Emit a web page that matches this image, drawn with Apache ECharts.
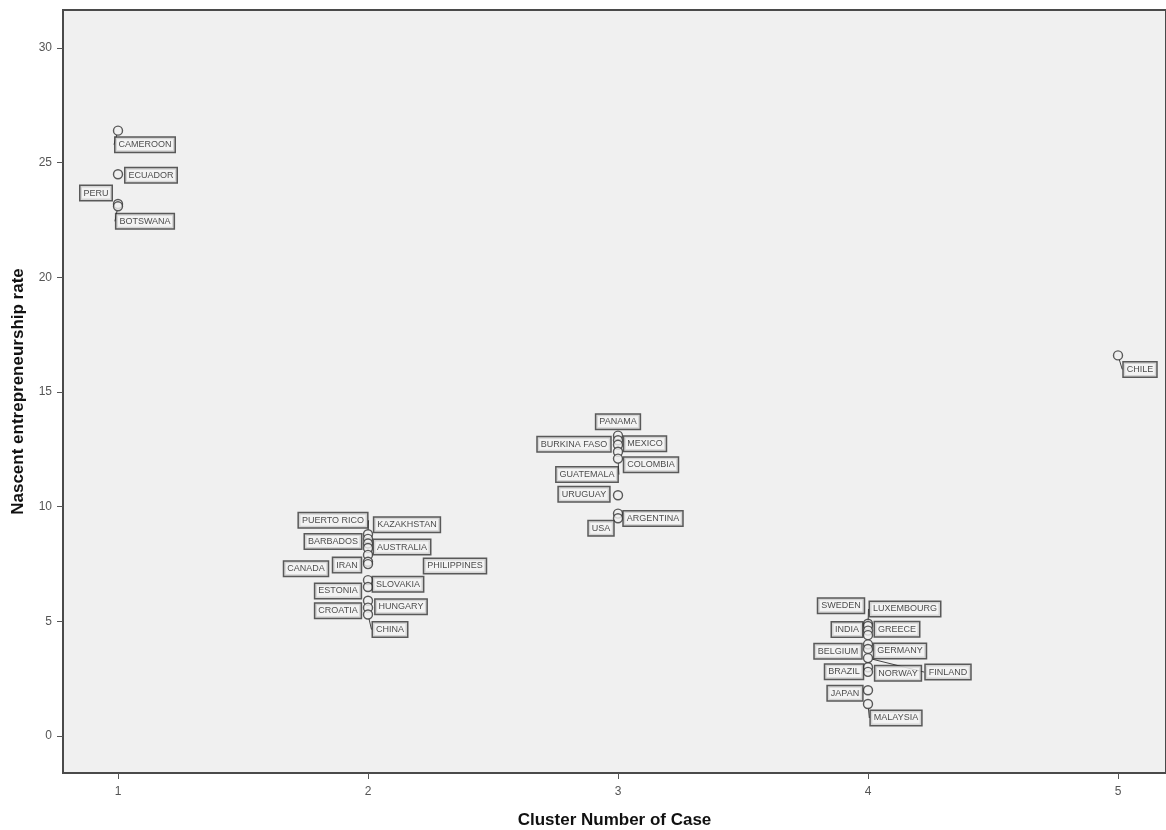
<!DOCTYPE html>
<html>
<head>
<meta charset="utf-8">
<script src="https://cdn.jsdelivr.net/npm/echarts@6/dist/echarts.min.js"></script>
<style>
  html, body { margin: 0; padding: 0; background: #fff; }
  #chart { width: 1166px; height: 830px; }
</style>
</head>
<body>
<div id="chart"></div>
<script>
// countries, their cluster and nascent entrepreneurship rate
const countries = [
  'CAMEROON', 'ECUADOR', 'PERU', 'BOTSWANA',
  'PUERTO RICO', 'KAZAKHSTAN', 'BARBADOS', 'AUSTRALIA', 'PHILIPPINES', 'CANADA', 'IRAN',
  'SLOVAKIA', 'ESTONIA', 'HUNGARY', 'CROATIA', 'CHINA',
  'PANAMA', 'BURKINA FASO', 'MEXICO', 'COLOMBIA', 'GUATEMALA', 'URUGUAY', 'ARGENTINA', 'USA',
  'SWEDEN', 'LUXEMBOURG', 'INDIA', 'GREECE', 'BELGIUM', 'GERMANY', 'FINLAND', 'NORWAY', 'BRAZIL', 'JAPAN', 'MALAYSIA',
  'CHILE'
]
const clusters = [
  1, 1, 1, 1,
  2, 2, 2, 2, 2, 2, 2,
  2, 2, 2, 2, 2,
  3, 3, 3, 3, 3, 3, 3, 3,
  4, 4, 4, 4, 4, 4, 4, 4, 4, 4, 4,
  5
]
const rates = [
  26.4, 24.5, 23.2, 23.1,
  8.8, 8.6, 8.4, 8.2, 7.9, 7.6, 7.5,
  6.8, 6.5, 5.9, 5.6, 5.3,
  13.1, 12.9, 12.7, 12.4, 12.1, 10.5, 9.7, 9.5,
  4.9, 4.8, 4.6, 4.4, 4.0, 3.8, 3.4, 3.0, 2.8, 2.0, 1.4,
  16.6
]
const xTicks = [1, 2, 3, 4, 5]
const yTicks = [0, 5, 10, 15, 20, 25, 30]

// label box placement relative to its point (px), and which ones get a leader line
const labelShift = {
  'CAMEROON': [27, 14], 'ECUADOR': [33, 1], 'PERU': [-22, -11], 'BOTSWANA': [27, 15],
  'PUERTO RICO': [-35, -14], 'KAZAKHSTAN': [39, -14], 'BARBADOS': [-35, -2], 'AUSTRALIA': [34, -1],
  'PHILIPPINES': [87, 11], 'CANADA': [-62, 7], 'IRAN': [-21, 1],
  'SLOVAKIA': [30, 4], 'ESTONIA': [-30, 4], 'HUNGARY': [33, 6], 'CROATIA': [-30, 3], 'CHINA': [22, 15],
  'PANAMA': [0, -14], 'BURKINA FASO': [-44, 4], 'MEXICO': [27, -1], 'COLOMBIA': [33, 13],
  'GUATEMALA': [-31, 16], 'URUGUAY': [-34, -1], 'ARGENTINA': [35, 5], 'USA': [-17, 10],
  'SWEDEN': [-27, -18], 'LUXEMBOURG': [37, -17], 'INDIA': [-21, -1], 'GREECE': [29, -6],
  'BELGIUM': [-30, 7], 'GERMANY': [32, 2], 'FINLAND': [80, 14], 'NORWAY': [30, 6],
  'BRAZIL': [-24, 0], 'JAPAN': [-23, 3], 'MALAYSIA': [28, 14],
  'CHILE': [22, 14]
}
const withLine = ['CAMEROON', 'BOTSWANA', 'PUERTO RICO', 'GUATEMALA', 'LUXEMBOURG', 'FINLAND', 'MALAYSIA', 'CHINA', 'CHILE']

const points = countries.map((name, i) => ({
  name: name,
  value: [clusters[i], rates[i]],
  labelLine: { show: withLine.includes(name) }
}))

const chart = echarts.init(document.getElementById('chart'))

const axisText = { color: '#555', fontSize: 12, fontFamily: 'Liberation Sans, Arial, sans-serif' }
const nameText = { color: '#111', fontSize: 17, fontWeight: 'bold', fontFamily: 'Liberation Sans Narrow, Liberation Sans, Arial, sans-serif' }

chart.setOption({
  animation: false,
  backgroundColor: '#fff',
  grid: {
    show: true,
    left: 63,
    top: 10,
    right: 0,
    bottom: 57,
    containLabel: false,
    outerBoundsMode: 'none',
    backgroundColor: '#f0f0f0',
    borderColor: '#4a4a4a',
    borderWidth: 2
  },
  xAxis: {
    type: 'value',
    min: 0.78,
    max: 5.192,
    name: 'Cluster Number of Case',
    nameLocation: 'middle',
    nameGap: 39,
    nameTextStyle: nameText,
    axisLine: { show: false, onZero: false },
    splitLine: { show: false },
    axisTick: { show: true, length: 6, customValues: xTicks, lineStyle: { color: '#555' } },
    axisLabel: { customValues: xTicks, margin: 13, ...axisText }
  },
  yAxis: {
    type: 'value',
    min: -1.61,
    max: 31.66,
    name: 'Nascent entrepreneurship rate',
    nameLocation: 'middle',
    nameGap: 36,
    nameTextStyle: nameText,
    axisLine: { show: false, onZero: false },
    splitLine: { show: false },
    axisTick: { show: true, length: 6, customValues: yTicks, lineStyle: { color: '#555' } },
    axisLabel: { customValues: yTicks, margin: 11, ...axisText }
  },
  series: [
    {
      type: 'scatter',
      data: points,
      symbol: 'circle',
      symbolSize: 9,
      itemStyle: { color: '#f0f0f0', borderColor: '#333', borderWidth: 1.4 },
      label: {
        show: true,
        position: 'inside',
        formatter: p => p.name,
        color: '#222',
        fontSize: 9,
        fontFamily: 'Liberation Sans, Arial, sans-serif',
        backgroundColor: '#f4f4f4',
        borderColor: '#333',
        borderWidth: 1.5,
        padding: [3, 3, 2, 3]
      },
      labelLine: {
        lineStyle: { color: '#444', width: 1 }
      },
      labelLayout: params => {
        const s = labelShift[countries[params.dataIndex]] || [0, 0]
        return { dx: s[0], dy: s[1] }
      },
      emphasis: { disabled: true }
    }
  ]
})
</script>
</body>
</html>
